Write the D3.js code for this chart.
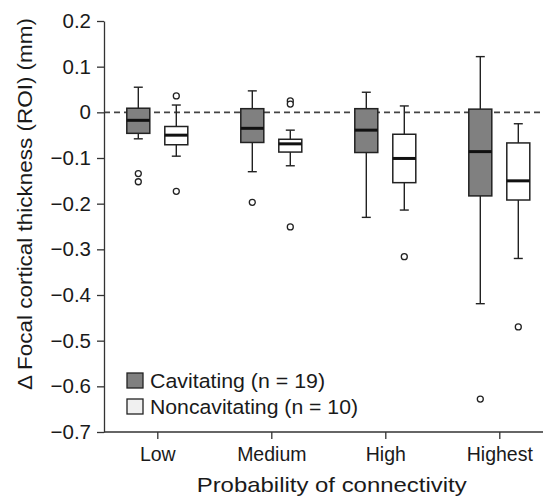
<!DOCTYPE html>
<html><head><meta charset="utf-8">
<script src="https://cdn.jsdelivr.net/npm/d3@7"></script>
<style>body{margin:0;background:#fff;} text{font-family:"Liberation Sans",Arial,sans-serif;fill:#1a1a1a;}</style>
</head><body><svg id="c" width="543" height="498"></svg>
<script>
const categories = ["Low","Medium","High","Highest"];
const seriesNames = ["Cavitating (n = 19)","Noncavitating (n = 10)"];
// [whiskerLow, q1, median, q3, whiskerHigh]
const cavitating = [
  [-0.058,-0.046,-0.0175,0.009,0.055],
  [-0.130,-0.066,-0.035,0.008,0.047],
  [-0.230,-0.088,-0.039,0.008,0.044],
  [-0.419,-0.183,-0.086,0.007,0.122]
];
const noncavitating = [
  [-0.096,-0.071,-0.050,-0.031,0.016],
  [-0.117,-0.087,-0.069,-0.059,-0.039],
  [-0.214,-0.154,-0.101,-0.048,0.014],
  [-0.320,-0.192,-0.150,-0.067,-0.025]
];
const cavOutliers = [[-0.134,-0.152],[-0.197],[],[-0.628]];
const noncavOutliers = [[0.036,-0.173],[0.025,0.018,-0.251],[-0.316],[-0.470]];
const yTicks = [0.2,0.1,0,-0.1,-0.2,-0.3,-0.4,-0.5,-0.6,-0.7];

(function(){
const svg = d3.select("#c");
const mLeft = 104, mBottom = 432, mTop = 21, mRight = 543;
const y = d3.scaleLinear().domain([-0.7,0.2]).range([mBottom, mTop]);
const x = d3.scalePoint().domain(categories).range([157.3, 499.3]);
const off = 19, bw = 23, cap = 9;

// zero dashed line
svg.append("line").attr("x1",mLeft).attr("x2",mRight).attr("y1",y(0)).attr("y2",y(0))
  .attr("stroke","#444").attr("stroke-width",1.6).attr("stroke-dasharray","6,4");

const fmt = v => v===0 ? "0" : (v<0 ? "\u2212"+d3.format(".1f")(-v) : d3.format(".1f")(v));
const ya = svg.append("g").attr("transform",`translate(${mLeft},0)`)
  .call(d3.axisLeft(y).tickValues(yTicks).tickFormat(fmt).tickSize(7).tickPadding(6).tickSizeOuter(0));
ya.selectAll("text").style("font-size","20.5px").attr("fill","#1a1a1a");
ya.selectAll("line,path").attr("stroke","#333").attr("stroke-width",1.3);

const xa = svg.append("g").attr("transform",`translate(0,${mBottom})`)
  .call(d3.axisBottom(x).tickSize(7).tickPadding(8).tickSizeOuter(0));
xa.select(".domain").remove();
xa.append("line").attr("x1",mLeft).attr("x2",mRight).attr("stroke","#333").attr("stroke-width",1.3);
xa.selectAll("text").style("font-size","19.5px").attr("fill","#1a1a1a");
xa.selectAll(".tick line").attr("stroke","#333").attr("stroke-width",1.3);

function drawBoxes(data, outs, dx, fill){
  categories.forEach((c,i)=>{
    const [wl,q1,md,q3,wh] = data[i];
    const cx = x(c)+dx;
    const g = svg.append("g").attr("stroke","#222");
    g.append("line").attr("x1",cx).attr("x2",cx).attr("y1",y(wh)).attr("y2",y(q3)).attr("stroke-width",1.4);
    g.append("line").attr("x1",cx).attr("x2",cx).attr("y1",y(q1)).attr("y2",y(wl)).attr("stroke-width",1.4);
    g.append("line").attr("x1",cx-cap/2).attr("x2",cx+cap/2).attr("y1",y(wh)).attr("y2",y(wh)).attr("stroke-width",1.4);
    g.append("line").attr("x1",cx-cap/2).attr("x2",cx+cap/2).attr("y1",y(wl)).attr("y2",y(wl)).attr("stroke-width",1.4);
    g.append("rect").attr("x",cx-bw/2).attr("width",bw).attr("y",y(q3)).attr("height",y(q1)-y(q3))
      .attr("fill",fill).attr("stroke-width",1.5);
    g.append("line").attr("x1",cx-bw/2).attr("x2",cx+bw/2).attr("y1",y(md)).attr("y2",y(md)).attr("stroke","#111").attr("stroke-width",3);
    outs[i].forEach(v=>{
      g.append("circle").attr("cx",cx).attr("cy",y(v)).attr("r",3).attr("fill","#fff").attr("stroke-width",1.3);
    });
  });
}
drawBoxes(cavitating, cavOutliers, -off, "#808080");
drawBoxes(noncavitating, noncavOutliers, off, "#ffffff");

// legend
const leg = [["#808080",seriesNames[0],175],["#f0f0f0",seriesNames[1],208]];
leg.forEach((d,i)=>{
  const ly = 373 + i*26;
  svg.append("rect").attr("x",127).attr("y",ly).attr("width",16).attr("height",15)
    .attr("fill",d[0]).attr("stroke","#222").attr("stroke-width",1.3);
  svg.append("text").attr("x",150).attr("y",ly+14.5).style("font-size","20.5px")
    .attr("textLength",d[2]).attr("lengthAdjust","spacingAndGlyphs").text(d[1]);
});

// axis titles
svg.append("text").attr("x",331.7).attr("y",491.5).attr("text-anchor","middle").style("font-size","21px")
  .attr("textLength",270).attr("lengthAdjust","spacingAndGlyphs")
  .text("Probability of connectivity");
svg.append("text").attr("transform","translate(32,204) rotate(-90)").attr("text-anchor","middle").style("font-size","21px")
  .attr("textLength",372).attr("lengthAdjust","spacingAndGlyphs")
  .text("\u0394 Focal cortical thickness (ROI) (mm)");
})();
</script></body></html>
